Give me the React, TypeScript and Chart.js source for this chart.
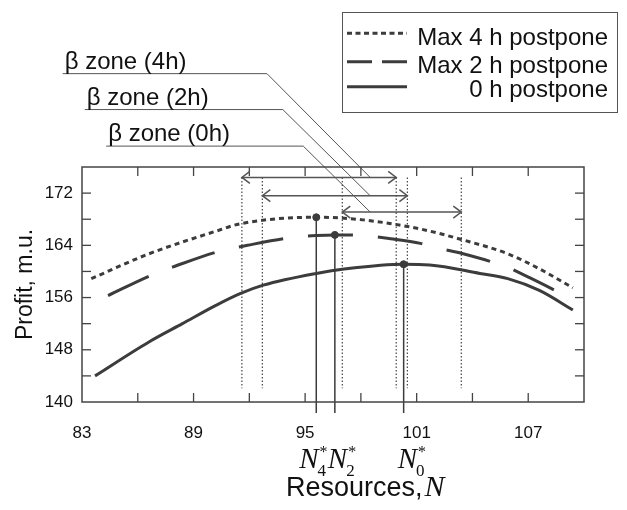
import React, { useEffect, useRef } from 'react';
import { Chart, registerables } from 'chart.js';
Chart.register(...registerables);

// ---- axes ----
const xMin = 83, xMax = 110, yMin = 140, yMax = 176;
const xTickLabels = [83, 89, 95, 101, 107];
const xMinorTicks = [86, 89, 92, 95, 98, 101, 104, 107];
const yTickLabels = [140, 148, 156, 164, 172];
const yMinorTicks = [144, 148, 152, 156, 160, 164, 168, 172];

// ---- series ----
const seriesNames = ['Max 4 h postpone', 'Max 2 h postpone', '0 h postpone'];
const curve4hX = [83.5, 86.6, 90.35, 91.5, 95.6, 98.1, 101.2, 103.4, 105.9, 107.6, 109.4];
const curve4hY = [158.9, 162.7, 166.3, 167.3, 168.3, 167.9, 166.5, 164.9, 162.7, 160.4, 157.5];
const curve2hX = [84.4, 86.7, 88.0, 90.4, 91.9, 94.3, 95.6, 96.6, 98.1, 99.6, 101.2, 102.1, 103.5, 105.9, 107.1, 109.4];
const curve2hY = [156.3, 159.4, 160.8, 163.1, 164.0, 165.2, 165.5, 165.6, 165.5, 165.0, 164.3, 163.6, 162.7, 160.6, 159.0, 155.7];
const curve0hX = [83.7, 86.6, 88.4, 90.2, 91.5, 92.75, 95.6, 97.2, 100.3, 101.7, 104.4, 105.9, 107.6, 109.4];
const curve0hY = [144.0, 149.2, 152.0, 154.8, 156.6, 157.9, 159.7, 160.4, 161.1, 161.0, 159.7, 158.9, 157.1, 154.1];

// optimum points N*
const peakX = [95.6, 96.6, 100.3];
const peakY = [168.3, 165.6, 161.1];
const peakSubscripts = ['4', '2', '0'];
const stemBottomY = 138.3;

// beta zones
const zoneLabels = ['\u03b2 zone (4h)', '\u03b2 zone (2h)', '\u03b2 zone (0h)'];
const zoneLeft = [91.6, 92.7, 97.0];
const zoneRight = [99.9, 100.5, 103.4];
const arrowY = [174.4, 171.6, 169.1];
const zoneLineTopY = 174.4;
const zoneLineBottomY = 142.1;
const labelLineY = [190.3, 184.8, 179.2];
const labelLineStartX = [81.96, 83.15, 84.3];
const labelLineBendX = [92.95, 93.8, 94.9];
const leaderEndX = 98.5;

const INK = '#3c3c3c';
const SANS = '"Liberation Sans", Arial, sans-serif';
const SERIF = '"Liberation Serif", "Times New Roman", serif';

const seg = (pts: { x: number; y: number }[], extra: any = {}) => ({
  type: 'line',
  data: pts,
  borderColor: INK,
  borderWidth: 1.5,
  pointRadius: 0,
  fill: false,
  clip: false,
  tension: 0,
  ...extra,
});

const overlay = {
  id: 'overlay',
  afterDraw(chart: any) {
    const { ctx, chartArea: a, scales } = chart;
    const x = scales.x, y = scales.y;
    const px = (v: number) => x.getPixelForValue(v);
    const py = (v: number) => y.getPixelForValue(v);
    const line = (x1: number, y1: number, x2: number, y2: number) => {
      ctx.beginPath(); ctx.moveTo(x1, y1); ctx.lineTo(x2, y2); ctx.stroke();
    };
    ctx.save();
    // frame
    ctx.strokeStyle = '#444';
    ctx.lineWidth = 1.5;
    ctx.setLineDash([]);
    ctx.strokeRect(a.left, a.top, a.right - a.left, a.bottom - a.top);
    const tl = 9;
    ctx.lineWidth = 1.3;
    xMinorTicks.forEach((v) => {
      const p = px(v);
      line(p, a.bottom, p, a.bottom - tl);
      line(p, a.top, p, a.top + tl);
    });
    yMinorTicks.forEach((v) => {
      const p = py(v);
      line(a.left, p, a.left + tl, p);
      line(a.right, p, a.right - tl, p);
    });
    // arrowheads
    ctx.strokeStyle = '#555';
    ctx.lineWidth = 1.5;
    zoneLeft.forEach((l, i) => {
      const yy = py(arrowY[i]);
      const xl = px(l), xr = px(zoneRight[i]);
      ctx.beginPath();
      ctx.moveTo(xl + 8, yy - 6); ctx.lineTo(xl, yy); ctx.lineTo(xl + 8, yy + 6);
      ctx.stroke();
      ctx.beginPath();
      ctx.moveTo(xr - 8, yy - 6); ctx.lineTo(xr, yy); ctx.lineTo(xr - 8, yy + 6);
      ctx.stroke();
    });
    // zone labels
    ctx.fillStyle = '#111';
    ctx.font = '24px ' + SANS;
    ctx.textAlign = 'left';
    ctx.textBaseline = 'alphabetic';
    zoneLabels.forEach((t, i) => {
      ctx.fillText(t, px(labelLineStartX[i]) + 2, py(labelLineY[i]) - 5);
    });
    // N* labels
    const nDx = [-17, -7, -6];
    peakX.forEach((v, i) => {
      const bx = px(v) + nDx[i];
      ctx.font = 'italic 29px ' + SERIF;
      ctx.fillText('N', bx, 468);
      const w = ctx.measureText('N').width;
      ctx.font = '16px ' + SERIF;
      ctx.fillText('*', bx + w + 1, 457);
      ctx.font = '17px ' + SERIF;
      ctx.fillText(peakSubscripts[i], bx + w - 1, 476);
    });
    // x title
    ctx.font = '27px ' + SANS;
    ctx.fillText('Resources,', 286, 496);
    const rw = ctx.measureText('Resources,').width;
    ctx.font = 'italic 30px ' + SERIF;
    ctx.fillText('N', 286 + rw + 2, 496);
    // legend
    ctx.strokeStyle = '#555';
    ctx.lineWidth = 1;
    ctx.strokeRect(342.5, 12.5, 275, 100);
    const rowsY = [33.3, 61.7, 86.7];
    const baseY = [45, 72.5, 96.5];
    const dashes = [[5, 3.5], [25, 10], []];
    seriesNames.forEach((n, i) => {
      ctx.strokeStyle = INK;
      ctx.lineWidth = 3;
      ctx.setLineDash(dashes[i]);
      line(347, rowsY[i], 407, rowsY[i]);
      ctx.setLineDash([]);
      ctx.font = '24px ' + SANS;
      ctx.textAlign = 'right';
      ctx.fillStyle = '#111';
      ctx.fillText(n, 608, baseY[i]);
    });
    ctx.restore();
  },
};

export default function App() {
  const ref = useRef<HTMLCanvasElement>(null);
  useEffect(() => {
    if (!ref.current) return;
    const pts = (xs: number[], ys: number[]) => xs.map((v, i) => ({ x: v, y: ys[i] }));
    const datasets: any[] = [
      {
        type: 'line', data: pts(curve4hX, curve4hY), borderColor: INK, borderWidth: 3,
        borderDash: [5, 4], pointRadius: 0, cubicInterpolationMode: 'monotone', fill: false,
      },
      {
        type: 'line', data: pts(curve2hX, curve2hY), borderColor: INK, borderWidth: 3,
        borderDash: [45, 25], pointRadius: 0, cubicInterpolationMode: 'monotone', fill: false,
      },
      {
        type: 'line', data: pts(curve0hX, curve0hY), borderColor: INK, borderWidth: 3,
        pointRadius: 0, cubicInterpolationMode: 'monotone', fill: false,
      },
    ];
    peakX.forEach((v, i) => datasets.push(seg([{ x: v, y: peakY[i] }, { x: v, y: stemBottomY }])));
    zoneLeft.forEach((l, i) => {
      [l, zoneRight[i]].forEach((v) =>
        datasets.push(seg([{ x: v, y: zoneLineTopY }, { x: v, y: zoneLineBottomY }], { borderWidth: 1.2, borderDash: [1.5, 2], borderColor: '#444' }))
      );
      datasets.push(seg([{ x: l, y: arrowY[i] }, { x: zoneRight[i], y: arrowY[i] }], { borderColor: '#555' }));
      datasets.push(
        seg(
          [
            { x: labelLineStartX[i], y: labelLineY[i] },
            { x: labelLineBendX[i], y: labelLineY[i] },
            { x: leaderEndX, y: arrowY[i] },
          ],
          { borderWidth: 1, borderColor: '#555' }
        )
      );
    });
    datasets.push({
      type: 'scatter', data: pts(peakX, peakY), pointRadius: 3.5, pointBackgroundColor: INK,
      pointBorderColor: INK, clip: false,
    });

    const chart = new Chart(ref.current, {
      type: 'line',
      data: { datasets },
      options: {
        animation: false,
        responsive: false,
        events: [],
        layout: { padding: { top: 167, right: 43, bottom: 0, left: 0 } },
        plugins: { legend: { display: false }, tooltip: { enabled: false } },
        scales: {
          x: {
            type: 'linear', min: xMin, max: xMax,
            grid: { display: false, drawTicks: false },
            border: { display: false },
            afterBuildTicks: (s: any) => { s.ticks = xTickLabels.map((v) => ({ value: v })); },
            afterFit: (s: any) => { s.height = 108; },
            ticks: { color: '#111', font: { size: 17, family: SANS }, padding: 21, autoSkip: false, maxRotation: 0 },
          },
          y: {
            type: 'linear', min: yMin, max: yMax,
            grid: { display: false, drawTicks: false },
            border: { display: false },
            afterBuildTicks: (s: any) => { s.ticks = yTickLabels.map((v) => ({ value: v })); },
            afterFit: (s: any) => { s.width = 82; },
            ticks: { color: '#111', font: { size: 17, family: SANS }, padding: 9, autoSkip: false },
            title: {
              display: true, text: 'Profit, m.u.', color: '#111',
              font: { size: 23, family: SANS }, padding: { top: 12, bottom: 0 },
            },
          },
        },
      } as any,
      plugins: [overlay],
    } as any);
    return () => chart.destroy();
  }, []);
  return (
    <div style={{ position: 'fixed', left: 0, top: 0, width: 627, height: 510, background: '#fff' }}>
      <canvas ref={ref} width={627} height={510} />
    </div>
  );
}
